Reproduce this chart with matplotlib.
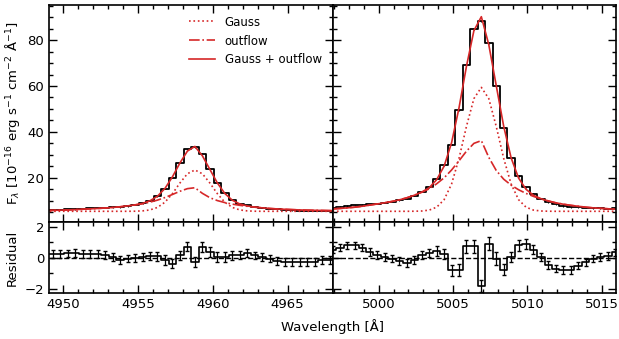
import matplotlib
matplotlib.use("Agg")
import matplotlib.pyplot as plt
from matplotlib.ticker import MultipleLocator

# [OIII] 4959 window
wave_4959 = [4948.8, 4949.3, 4949.8, 4950.3, 4950.8, 4951.3, 4951.8, 4952.3, 4952.8, 4953.3,
             4953.8, 4954.3, 4954.8, 4955.3, 4955.8, 4956.3, 4956.8, 4957.3, 4957.8, 4958.3,
             4958.8, 4959.3, 4959.8, 4960.3, 4960.8, 4961.3, 4961.8, 4962.3, 4962.8, 4963.3,
             4963.8, 4964.3, 4964.8, 4965.3, 4965.8, 4966.3, 4966.8, 4967.3, 4967.8, 4968.3]
flux_4959 = [6.05, 6.09, 6.17, 6.28, 6.43, 6.57, 6.74, 6.88, 7.03, 7.12,
             7.22, 7.69, 8.21, 8.88, 10.1, 12.07, 15.22, 20.06, 26.63, 32.35,
             33.4, 30.3, 24.04, 17.82, 13.22, 10.39, 8.78, 8.03, 7.38, 6.95,
             6.58, 6.23, 6.0, 5.86, 5.73, 5.63, 5.58, 5.65, 5.58, 5.55]
err_4959 = [0.25, 0.25, 0.25, 0.25, 0.25, 0.25, 0.25, 0.25, 0.25, 0.25,
            0.25, 0.25, 0.25, 0.25, 0.25, 0.28, 0.3, 0.3, 0.3, 0.3,
            0.3, 0.3, 0.3, 0.3, 0.3, 0.28, 0.25, 0.25, 0.25, 0.25,
            0.25, 0.25, 0.25, 0.25, 0.25, 0.25, 0.25, 0.25, 0.25, 0.25]
gauss_4959 = [5.4, 5.4, 5.4, 5.4, 5.4, 5.4, 5.4, 5.4, 5.4, 5.4,
              5.4, 5.4, 5.44, 5.58, 6.0, 7.09, 9.37, 13.1, 17.73, 21.77,
              23.4, 21.77, 17.73, 13.1, 9.37, 7.09, 6.0, 5.58, 5.44, 5.4,
              5.4, 5.4, 5.4, 5.4, 5.4, 5.4, 5.4, 5.4, 5.4, 5.4]
outflow_4959 = [5.78, 5.82, 5.9, 6.0, 6.13, 6.3, 6.47, 6.63, 6.83, 7.07,
                7.37, 7.73, 8.17, 8.67, 9.4, 10.27, 11.4, 12.73, 14.13, 15.27,
                15.67, 13.23, 11.33, 10.07, 9.2, 8.53, 8.0, 7.57, 7.2, 6.9,
                6.63, 6.43, 6.27, 6.13, 6.0, 5.9, 5.83, 5.77, 5.7, 5.67]
total_4959 = [5.78, 5.82, 5.9, 6.0, 6.13, 6.3, 6.47, 6.63, 6.83, 7.07,
              7.37, 7.74, 8.21, 8.83, 10.0, 11.97, 15.37, 20.43, 26.47, 31.63,
              33.67, 29.6, 23.67, 17.77, 13.17, 10.23, 8.6, 7.73, 7.23, 6.9,
              6.63, 6.43, 6.27, 6.13, 6.0, 5.9, 5.83, 5.77, 5.7, 5.67]
resid_4959 = [0.27, 0.27, 0.27, 0.28, 0.3, 0.27, 0.27, 0.25, 0.2, 0.05,
              -0.15, -0.05, 0.0, 0.05, 0.1, 0.1, -0.15, -0.37, 0.16, 0.72,
              -0.27, 0.7, 0.37, 0.05, 0.05, 0.16, 0.18, 0.3, 0.15, 0.05,
              -0.05, -0.2, -0.27, -0.27, -0.27, -0.27, -0.25, -0.12, -0.12, -0.12]

# [OIII] 5007 window
wave_5007 = [4996.9, 4997.4, 4997.9, 4998.4, 4998.9, 4999.4, 4999.9, 5000.4, 5000.9, 5001.4,
             5001.9, 5002.4, 5002.9, 5003.4, 5003.9, 5004.4, 5004.9, 5005.4, 5005.9, 5006.4,
             5006.9, 5007.4, 5007.9, 5008.4, 5008.9, 5009.4, 5009.9, 5010.4, 5010.9, 5011.4,
             5011.9, 5012.4, 5012.9, 5013.4, 5013.9, 5014.4, 5014.9, 5015.4, 5015.9, 5016.4]
flux_5007 = [6.98, 7.31, 7.7, 8.0, 8.26, 8.48, 8.76, 9.15, 9.65, 10.2,
             10.97, 12.25, 13.96, 16.01, 19.64, 25.37, 34.5, 49.7, 69.34, 84.84,
             88.36, 78.91, 60.15, 41.74, 28.75, 20.7, 15.9, 12.93, 10.95, 9.42,
             8.4, 7.7, 7.2, 7.1, 6.9, 6.85, 6.75, 6.6, 6.65, 6.6]
err_5007 = [0.25, 0.25, 0.25, 0.25, 0.25, 0.25, 0.25, 0.25, 0.25, 0.25,
            0.25, 0.25, 0.25, 0.28, 0.3, 0.33, 0.35, 0.38, 0.4, 0.4,
            0.4, 0.42, 0.4, 0.38, 0.35, 0.33, 0.3, 0.28, 0.25, 0.25,
            0.25, 0.25, 0.25, 0.25, 0.25, 0.25, 0.25, 0.25, 0.25, 0.25]
gauss_5007 = [5.4, 5.4, 5.4, 5.4, 5.4, 5.4, 5.4, 5.4, 5.4, 5.4,
              5.4, 5.43, 5.53, 5.93, 7.2, 10.48, 17.3, 28.5, 42.4, 54.5,
              59.4, 54.5, 42.4, 28.5, 17.3, 10.48, 7.2, 5.93, 5.53, 5.43,
              5.4, 5.4, 5.4, 5.4, 5.4, 5.4, 5.4, 5.4, 5.4, 5.4]
outflow_5007 = [6.45, 6.65, 6.9, 7.2, 7.6, 8.1, 8.6, 9.1, 9.7, 10.4,
                11.3, 12.4, 13.7, 15.2, 17.4, 20.0, 23.4, 27.4, 31.6, 35.0,
                36.2, 28.9, 23.2, 19.4, 16.8, 14.8, 13.2, 11.9, 10.8, 9.9,
                9.1, 8.5, 8.0, 7.6, 7.2, 6.9, 6.7, 6.5, 6.3, 6.2]
total_5007 = [6.45, 6.65, 6.9, 7.2, 7.6, 8.1, 8.6, 9.1, 9.7, 10.4,
              11.3, 12.4, 13.8, 15.7, 19.2, 25.1, 35.3, 50.5, 68.6, 84.1,
              90.2, 78.0, 60.2, 42.5, 28.7, 19.9, 15.0, 12.4, 10.9, 9.9,
              9.1, 8.5, 8.0, 7.6, 7.2, 6.9, 6.7, 6.5, 6.3, 6.2]
resid_5007 = [0.53, 0.66, 0.8, 0.8, 0.66, 0.38, 0.16, 0.05, -0.05, -0.2,
              -0.33, -0.15, 0.16, 0.31, 0.44, 0.27, -0.8, -0.8, 0.74, 0.74,
              -1.84, 0.91, -0.05, -0.76, 0.05, 0.8, 0.9, 0.53, 0.05, -0.48,
              -0.7, -0.8, -0.8, -0.5, -0.3, -0.05, 0.05, 0.1, 0.35, 0.4]

red = '#d62728'
plt.rcParams['font.size'] = 9.5

fig = plt.figure(figsize=(6.19, 3.39), dpi=100)
x0, w = 0.0792, 0.458
ax1 = fig.add_axes([x0, 0.3442, w, 0.6411])
ax2 = fig.add_axes([x0 + w, 0.3442, w, 0.6411], sharey=ax1)
rx1 = fig.add_axes([x0, 0.1348, w, 0.2094], sharex=ax1)
rx2 = fig.add_axes([x0 + w, 0.1348, w, 0.2094], sharex=ax2, sharey=rx1)

panels = [(ax1, rx1, wave_4959, flux_4959, err_4959, gauss_4959, outflow_4959, total_4959, resid_4959, (4949.05, 4968.0)),
          (ax2, rx2, wave_5007, flux_5007, err_5007, gauss_5007, outflow_5007, total_5007, resid_5007, (4996.9, 5015.95))]

for ax, rx, wl, fl, er, ga, ou, to, rs, xl in panels:
    ax.plot(wl, fl, drawstyle='steps-mid', color='k', lw=1.3)
    ax.errorbar(wl, fl, yerr=er, fmt='none', ecolor='k', elinewidth=0.8)
    ax.plot(wl, ga, ':', color=red, lw=1.2, label='Gauss')
    ax.plot(wl, ou, '-.', color=red, lw=1.2, label='outflow')
    ax.plot(wl, to, '-', color=red, lw=1.2, label='Gauss + outflow')

    rx.axhline(0, color='k', ls='--', lw=1)
    rx.plot(wl, rs, drawstyle='steps-mid', color='k', lw=1.2)
    rx.errorbar(wl, rs, yerr=er, fmt='none', ecolor='k', elinewidth=0.9, capsize=1.5)

    ax.set_xlim(*xl)
    for a in (ax, rx):
        a.xaxis.set_major_locator(MultipleLocator(5))
        a.xaxis.set_minor_locator(MultipleLocator(1))
        a.tick_params(which='both', direction='in', top=True, right=True, width=1)
        a.tick_params(which='major', length=6)
        a.tick_params(which='minor', length=3)
        for s in a.spines.values():
            s.set_linewidth(1.2)
    ax.tick_params(labelbottom=False)

ax1.yaxis.set_major_locator(MultipleLocator(20))
ax1.yaxis.set_minor_locator(MultipleLocator(5))
ax1.set_ylim(0.6, 95.3)
rx1.set_ylim(-2.3, 2.3)
rx1.yaxis.set_major_locator(MultipleLocator(2))
rx1.yaxis.set_minor_locator(MultipleLocator(1))
ax2.tick_params(labelleft=False)
rx2.tick_params(labelleft=False)

ax1.set_ylabel(r'F$_\lambda$ [10$^{-16}$ erg s$^{-1}$ cm$^{-2}$ Å$^{-1}$]')
rx1.set_ylabel('Residual')
fig.align_ylabels([ax1, rx1])

ax1.legend(loc='upper right', frameon=False, fontsize=8.5, handlelength=2.2)
fig.text(332.5 / 619, 1 - 327 / 339, 'Wavelength [Å]', ha='center', va='center')

fig.savefig('out.png', dpi=100)
